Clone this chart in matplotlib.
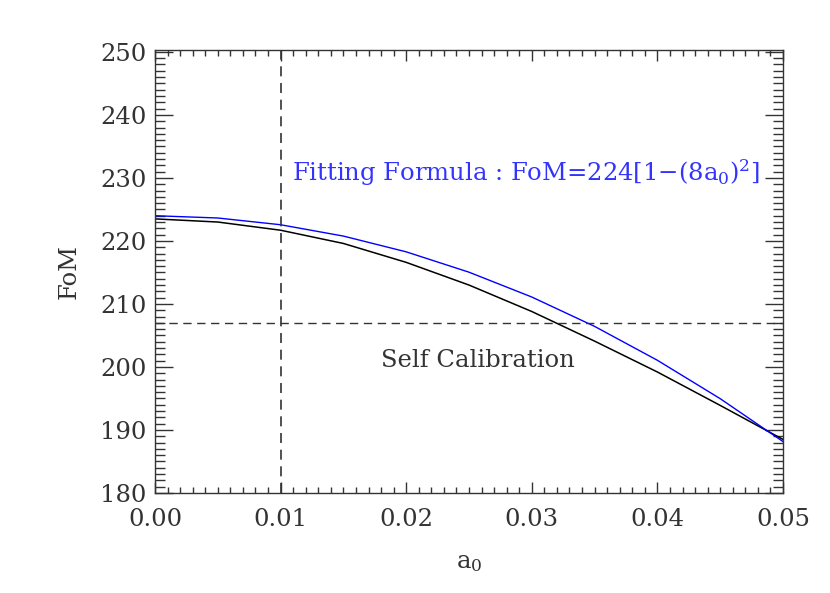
import matplotlib
matplotlib.use('Agg')
import matplotlib.pyplot as plt
from matplotlib.ticker import MultipleLocator

# values
a0 = [0.0, 0.005, 0.01, 0.015, 0.02, 0.025, 0.03, 0.035, 0.04, 0.045, 0.05]
fom_self = [223.5, 223.0, 221.7, 219.6, 216.6, 213.0, 208.8, 204.1, 199.2, 193.9, 188.5]
fom_fit = [224.0, 223.64, 222.57, 220.77, 218.27, 215.04, 211.10, 206.44, 201.06, 194.97, 188.16]
self_cal_level = 207.0
a0_mark = 0.01

plt.rcParams['font.family'] = ['DejaVu Serif']
plt.rcParams['mathtext.fontset'] = 'dejavuserif'
grey = '#333333'

fig = plt.figure(figsize=(8.30, 5.93), dpi=100)
ax = fig.add_axes([155 / 830, 1 - 493 / 593, 628 / 830, 443 / 593])

ax.plot(a0, fom_self, color='black', lw=1.1)
ax.plot(a0, fom_fit, color='#0000ff', lw=1.0)
ax.axhline(self_cal_level, color=grey, lw=1.0, ls=(0, (6, 4)))
ax.axvline(a0_mark, color=grey, lw=1.2, ls=(0, (6, 4)))

ax.text(0.0109, 230.8, r'Fitting Formula : FoM=224[1$-$(8a$_0$)$^2$]',
        color='#3333ff', fontsize=17.5, va='center', ha='left')
ax.text(0.018, 201.0, 'Self Calibration', color=grey, fontsize=17.5,
        va='center', ha='left')

ax.set_xlim(0, 0.05)
ax.set_ylim(180, 250.3)
ax.xaxis.set_major_locator(MultipleLocator(0.01))
ax.xaxis.set_minor_locator(MultipleLocator(0.001))
ax.yaxis.set_major_locator(MultipleLocator(10))
ax.yaxis.set_minor_locator(MultipleLocator(1))
ax.set_xticklabels([f'{v:.2f}' for v in ax.get_xticks()])

ax.tick_params(axis='both', which='both', direction='in', top=True, right=True,
               colors=grey, labelsize=17.5, width=1.0)
ax.tick_params(axis='x', which='major', length=8, pad=11)
ax.tick_params(axis='x', which='minor', length=4)
ax.tick_params(axis='y', which='major', length=13, pad=6)
ax.tick_params(axis='y', which='minor', length=7)
for s in ax.spines.values():
    s.set_color(grey)
    s.set_linewidth(1.0)

ax.set_xlabel(r'a$_0$', fontsize=17.5, color=grey, labelpad=14)
ax.set_ylabel('FoM', fontsize=17.5, color=grey, labelpad=14)

fig.savefig('out.png', dpi=100)
